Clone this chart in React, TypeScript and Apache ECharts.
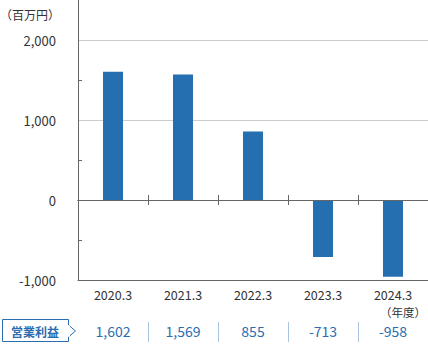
import React, { useEffect, useRef } from "react";
import * as echarts from "echarts";

const categories = ["2020.3", "2021.3", "2022.3", "2023.3", "2024.3"];
const operatingProfit = [1602, 1569, 855, -713, -958];
const yTicks = [-1000, 0, 1000, 2000];
const rowLabel = "営業利益";
const yUnit = "（百万円）";
const xUnit = "（年度）";

const FONT = "'Noto Sans CJK JP', 'Noto Sans', sans-serif";
const BLUE = "#2a6db0";
const BAR = "#256eb0";
const DARK = "#666666";

const fmt = (v: number) => String(v).replace(/\B(?=(\d{3})+(?!\d))/g, ",");

export default function App() {
  const ref = useRef<HTMLDivElement>(null);
  useEffect(() => {
    document.body.style.margin = "0";
    if (!ref.current) return;
    const chart = echarts.init(ref.current, undefined, { renderer: "svg" });
    const baseCat = {
      type: "category" as const,
      data: categories,
      gridIndex: 0,
      position: "bottom" as const,
    };
    chart.setOption({
      animation: false,
      textStyle: { fontFamily: FONT },
      grid: { left: 78, right: 0, top: 40, bottom: 65, containLabel: false, outerBoundsMode: "none" },
      xAxis: [
        {
          ...baseCat,
          z: 3,
          axisLine: { onZero: false, lineStyle: { color: DARK, width: 1 } },
          axisTick: { show: false },
          axisLabel: { color: "#333", fontSize: 12.5, margin: 8, fontFamily: FONT },
        },
        {
          ...baseCat,
          z: 3,
          axisLine: { onZero: true, onZeroAxisIndex: 0, lineStyle: { color: DARK, width: 1 } },
          axisTick: { show: true, length: 5, interval: (i: number) => i > 0, lineStyle: { color: DARK } },
          axisLabel: { show: false },
        },
        {
          ...baseCat,
          z: 3,
          axisLine: { onZero: true, onZeroAxisIndex: 0, lineStyle: { color: DARK, width: 1 } },
          axisTick: { show: true, inside: true, length: 5, interval: (i: number) => i > 0, lineStyle: { color: DARK } },
          axisLabel: { show: false },
        },
        {
          ...baseCat,
          data: operatingProfit.map(fmt),
          offset: 42,
          axisLine: { show: false, onZero: false },
          axisTick: { show: true, length: 20, interval: (i: number) => i > 0, lineStyle: { color: "#a9c3df" } },
          axisLabel: { color: BLUE, fontSize: 14, margin: 2, fontFamily: FONT },
        },
      ],
      yAxis: {
        type: "value",
        min: yTicks[0],
        max: yTicks[yTicks.length - 1],
        interval: 1000,
        name: yUnit,
        nameLocation: "end",
        nameGap: 20,
        nameTextStyle: { color: "#333", fontSize: 12, align: "right", padding: [0, 18, 0, 0], fontFamily: FONT },
        axisLine: { show: true, lineStyle: { color: DARK } },
        axisTick: { show: false, inside: true },
        minorTick: { show: true, splitNumber: 2, length: 4, lineStyle: { color: DARK } },
        splitLine: { show: true, lineStyle: { color: ["transparent", "transparent", "#cccccc", "#cccccc"] } },
        axisLabel: { color: "#333", fontSize: 13, margin: 22, formatter: (v: number) => fmt(v), fontFamily: FONT },
      },
      series: [
        {
          type: "bar",
          data: operatingProfit,
          barWidth: 20,
          itemStyle: { color: BAR },
          xAxisIndex: 0,
          yAxisIndex: 0,
        },
      ],
      graphic: [
        {
          type: "line",
          shape: { x1: 78.5, y1: 0, x2: 78.5, y2: 40 },
          style: { stroke: DARK, lineWidth: 1 },
        },
        {
          type: "text",
          x: 426,
          y: 312,
          style: { text: xUnit, fill: "#333", fontSize: 11.5, align: "right", verticalAlign: "middle", fontFamily: FONT },
        },
        {
          type: "polygon",
          shape: {
            points: [
              [2.5, 319.5],
              [68.5, 319.5],
              [68.5, 325],
              [75.5, 331],
              [68.5, 337],
              [68.5, 341.5],
              [2.5, 341.5],
            ],
          },
          style: { fill: "#fff", stroke: BLUE, lineWidth: 1 },
        },
        {
          type: "rect",
          shape: { x: 66, y: 325.5, width: 4, height: 11 },
          style: { fill: "#fff" },
        },
        {
          type: "text",
          x: 35,
          y: 331,
          style: { text: rowLabel, fill: BLUE, fontSize: 12, fontWeight: "bold", align: "center", verticalAlign: "middle", fontFamily: FONT },
        },
      ],
    });
    return () => chart.dispose();
  }, []);
  return <div ref={ref} style={{ width: 428, height: 345 }} />;
}
